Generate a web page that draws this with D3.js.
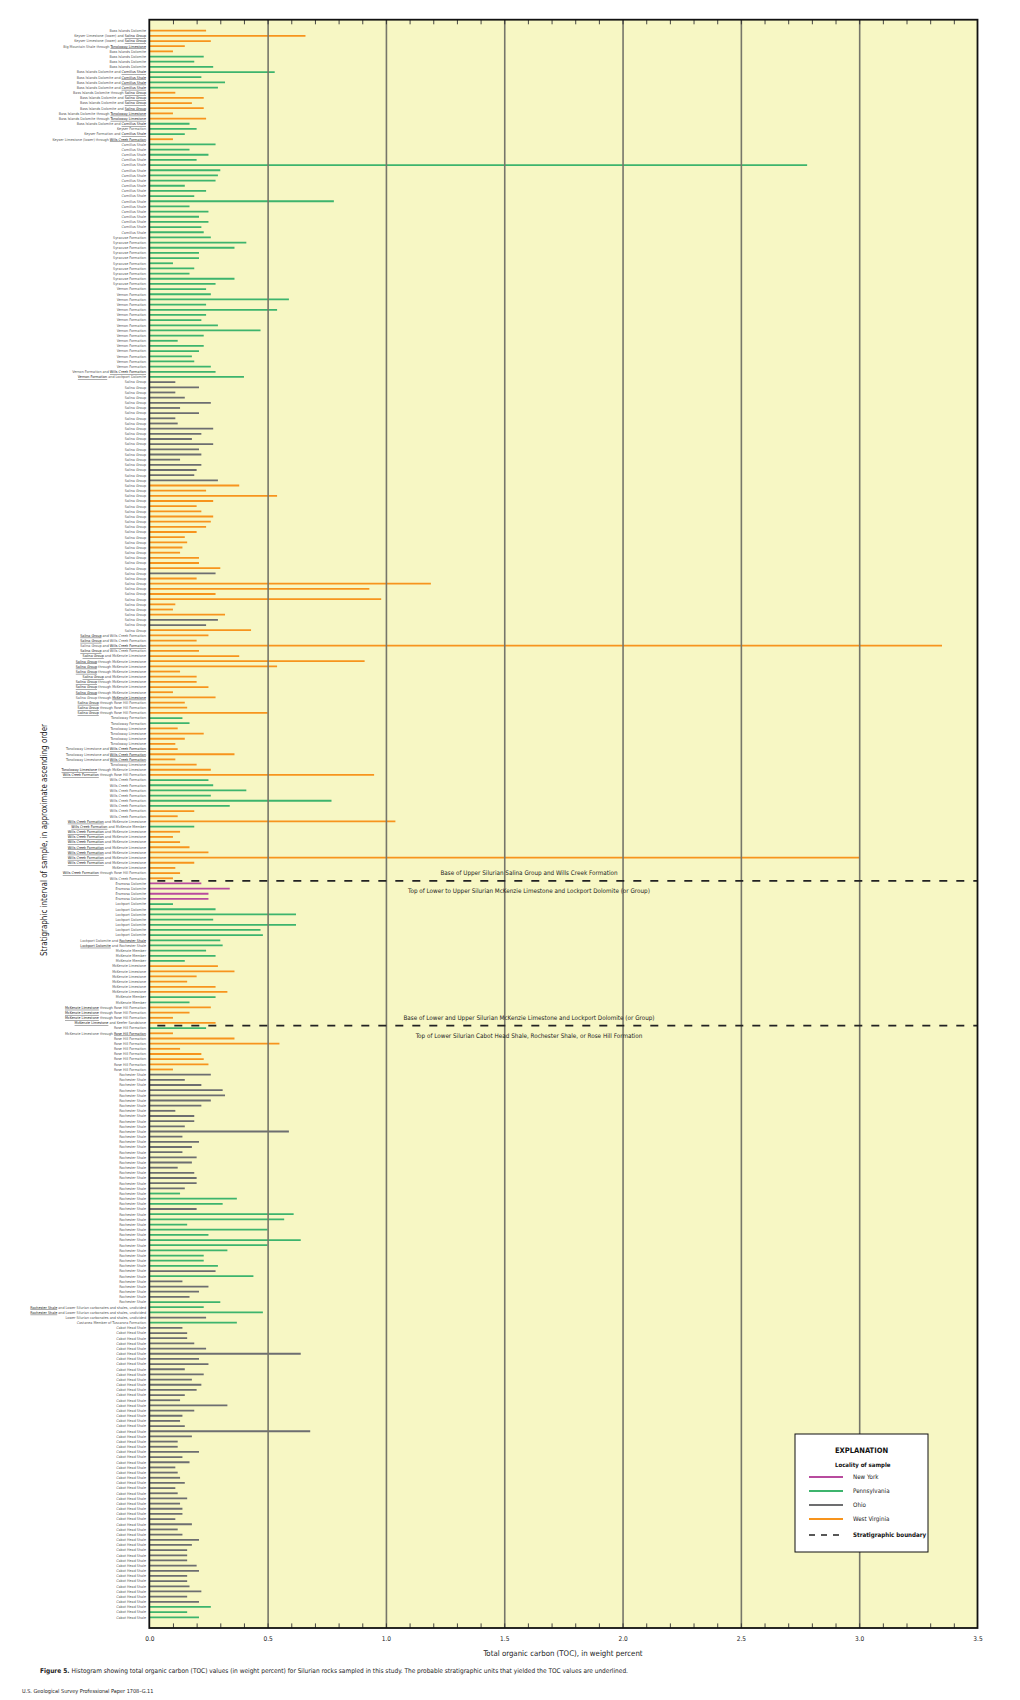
<!DOCTYPE html>
<html><head><meta charset="utf-8">
<script src="https://cdn.jsdelivr.net/npm/d3@7"></script>
<style>
html,body{margin:0;padding:0;background:#fff;}
svg{display:block;}
text{font-family:"Liberation Sans Narrow","DejaVu Sans Condensed","Roboto Condensed",sans-serif;}
</style></head>
<body>
<svg id="chart" width="1020" height="1700"></svg>
<script>
// ---------------- DATA ----------------
// Stratigraphic labels (runs of identical labels, top to bottom). {...} = underlined unit
const labelRuns = [
  ["Bass Islands Dolomite",1],
  ["Keyser Limestone (lower) and {Salina Group}",2],
  ["Big Mountain Shale through {Tonoloway Limestone}",1],
  ["Bass Islands Dolomite",4],
  ["Bass Islands Dolomite and {Camillus Shale}",4],
  ["Bass Islands Dolomite through {Salina Group}",1],
  ["Bass Islands Dolomite and {Salina Group}",3],
  ["Bass Islands Dolomite through {Tonoloway Limestone}",2],
  ["Bass Islands Dolomite and {Camillus Shale}",1],
  ["Keyser Formation",1],
  ["Keyser Formation and {Camillus Shale}",1],
  ["Keyser Limestone (lower) through {Wills Creek Formation}",1],
  ["Camillus Shale",18],
  ["Syracuse Formation",10],
  ["Vernon Formation",16],
  ["Vernon Formation and {Wills Creek Formation}",1],
  ["{Vernon Formation} and Lockport Dolomite",1],
  ["Salina Group",49],
  ["{Salina Group} and Wills Creek Formation",2],
  ["Salina Group and {Wills Creek Formation}",1],
  ["{Salina Group} and Wills Creek Formation",1],
  ["{Salina Group} and McKenzie Limestone",1],
  ["{Salina Group} through McKenzie Limestone",3],
  ["{Salina Group} and McKenzie Limestone",1],
  ["{Salina Group} through McKenzie Limestone",3],
  ["Salina Group through {McKenzie Limestone}",1],
  ["{Salina Group} through Rose Hill Formation",3],
  ["Tonoloway Formation",2],
  ["Tonoloway Limestone",4],
  ["Tonoloway Limestone and {Wills Creek Formation}",3],
  ["Tonoloway Limestone",1],
  ["{Tonoloway Limestone} through McKenzie Limestone",1],
  ["{Wills Creek Formation} through Rose Hill Formation",1],
  ["Wills Creek Formation",8],
  ["{Wills Creek Formation} and McKenzie Limestone",1],
  ["{Wills Creek Formation} and McKenzie Member",1],
  ["{Wills Creek Formation} and McKenzie Limestone",7],
  ["McKenzie Limestone",1],
  ["{Wills Creek Formation} through Rose Hill Formation",1],
  ["Wills Creek Formation",1],
  ["Eramosa Dolomite",4],
  ["Lockport Dolomite",7],
  ["Lockport Dolomite and {Rochester Shale}",1],
  ["{Lockport Dolomite} and Rochester Shale",1],
  ["McKenzie Member",3],
  ["McKenzie Limestone",6],
  ["McKenzie Member",2],
  ["{McKenzie Limestone} through Rose Hill Formation",3],
  ["{McKenzie Limestone} and Keefer Sandstone",1],
  ["Rose Hill Formation",1],
  ["McKenzie Limestone through {Rose Hill Formation}",1],
  ["Rose Hill Formation",7],
  ["Rochester Shale",45],
  ["{Rochester Shale} and Lower Silurian carbonates and shales, undivided",2],
  ["Lower Silurian carbonates and shales, undivided",1],
  ["Castanea Member of Tuscarora Formation",1],
  ["Cabot Head Shale",57]
];

// Locality of each sample (runs, top to bottom)
const localityRuns = [
  ["WV",5],["PA",7],["WV",6],["PA",3],["WV",1],["PA",46],["OH",20],["WV",17],["OH",1],
  ["WV",8],["OH",2],["WV",17],["PA",2],["WV",10],["PA",6],["WV",3],["PA",1],["WV",10],
  ["NY",4],["PA",12],["WV",6],["PA",2],["WV",4],["PA",1],["WV",8],["OH",23],["PA",3],
  ["OH",1],["PA",11],["OH",1],["PA",1],["OH",4],["PA",3],["OH",1],["PA",1],["OH",54],["PA",3]
];

// Total organic carbon, weight percent (top to bottom)
const toc = [
  0.24,0.66,0.26,0.15,0.10,0.23,0.19,0.27,0.53,0.22,0.32,0.29,0.11,0.23,0.18,0.23,0.10,0.24,0.17,0.20,0.15,0.10,
  0.28,0.17,0.25,0.20,2.78,0.30,0.29,0.28,0.15,0.24,0.19,0.78,0.17,0.25,0.21,0.25,0.22,0.23,
  0.26,0.41,0.36,0.21,0.21,0.10,0.19,0.17,0.36,0.28,
  0.24,0.26,0.59,0.24,0.54,0.24,0.22,0.29,0.47,0.23,0.12,0.23,0.21,0.18,0.19,0.26,0.28,0.40,
  0.11,0.21,0.11,0.15,0.26,0.13,0.21,0.11,0.12,0.27,0.22,0.18,0.27,0.21,0.22,0.13,0.22,0.20,0.19,0.29,
  0.38,0.24,0.54,0.27,0.20,0.22,0.27,0.26,0.24,0.20,0.15,0.16,0.14,0.13,0.21,0.21,0.30,
  0.28,0.20,1.19,0.93,0.28,0.98,0.11,0.10,0.32,0.29,0.24,0.43,
  0.25,0.20,3.35,0.21,0.38,0.91,0.54,0.13,0.20,0.20,0.25,0.10,0.28,0.15,0.16,0.50,
  0.14,0.17,0.12,0.23,0.15,0.11,0.12,0.36,0.11,0.20,0.26,0.95,
  0.25,0.27,0.41,0.26,0.77,0.34,0.19,0.12,1.04,0.19,0.13,0.10,0.13,0.17,0.25,3.00,0.19,0.11,0.13,0.10,
  0.22,0.34,0.25,0.25,0.10,0.28,0.62,0.27,0.62,0.47,0.48,0.30,0.31,0.24,0.28,0.15,0.29,0.36,0.20,0.16,0.28,0.33,0.28,0.17,0.26,0.17,0.10,0.28,
  0.24,0.10,0.36,0.55,0.13,0.22,0.23,0.25,0.10,
  0.26,0.15,0.22,0.31,0.32,0.26,0.22,0.11,0.19,0.19,0.15,0.59,0.14,0.21,0.18,0.14,0.20,0.18,0.12,0.19,0.20,0.20,0.15,
  0.13,0.37,0.31,0.20,0.61,0.57,0.16,0.50,0.25,0.64,0.50,0.33,0.23,0.23,0.29,0.28,0.44,0.14,0.25,0.21,0.17,0.30,0.23,0.48,0.24,0.37,
  0.14,0.16,0.16,0.19,0.24,0.64,0.21,0.25,0.15,0.23,0.18,0.22,0.20,0.15,0.13,0.33,0.19,0.14,0.13,0.15,
  0.68,0.18,0.12,0.12,0.21,0.14,0.17,0.11,0.12,0.13,0.15,0.11,0.12,0.16,0.13,0.14,0.14,0.11,0.18,0.12,
  0.14,0.21,0.18,0.16,0.16,0.16,0.20,0.21,0.16,0.16,0.17,0.22,0.16,0.21,0.26,0.16,0.21
];

// Stratigraphic boundaries: drawn after this many samples
const boundaryAfter = [165, 193];
const boundaryNotes = [
  ["Base of Upper Silurian Salina Group and Wills Creek Formation",
   "Top of Lower to Upper Silurian McKenzie Limestone and Lockport Dolomite (or Group)"],
  ["Base of Lower and Upper Silurian McKenzie Limestone and Lockport Dolomite (or Group)",
   "Top of Lower Silurian Cabot Head Shale, Rochester Shale, or Rose Hill Formation"]
];

const localityNames = {NY:"New York", PA:"Pennsylvania", OH:"Ohio", WV:"West Virginia"};
const localityOrder = ["NY","PA","OH","WV"];
const xTickLabels = [0,0.5,1,1.5,2,2.5,3,3.5];

const xTitle = "Total organic carbon (TOC), in weight percent";
const yTitle = "Stratigraphic interval of sample, in approximate ascending order";
const captionBold = "Figure 5.";
const captionText = "Histogram showing total organic carbon (TOC) values (in weight percent) for Silurian rocks sampled in this study. The probable stratigraphic units that yielded the TOC values are underlined.";
const footer = "U.S. Geological Survey Professional Paper 1708\u2013G.11";

// ---------------- BUILD ----------------
const labels = labelRuns.flatMap(([l,n]) => Array(n).fill(l));
const locs = localityRuns.flatMap(([l,n]) => Array(n).fill(l));
const rows = toc.map((v,i) => ({i, v, label: labels[i], loc: locs[i]}));

const colors = {NY:"#b84b9e", PA:"#3db46d", OH:"#6d6e70", WV:"#f7941d"};

const svg = d3.select("#chart");
const L = 149.3, R = 977.5, T = 19.7, B = 1628;
const x = d3.scaleLinear().domain([0,3.5]).range([L,R]);
const y = d3.scalePoint().domain(d3.range(rows.length)).range([30.7, 1617.3]);

// background
svg.append("rect").attr("x",L).attr("y",T).attr("width",R-L).attr("height",B-T).attr("fill","#f7f7c4");

// bars
svg.append("g").selectAll("line").data(rows).join("line")
  .attr("x1", x(0)).attr("x2", d => x(d.v))
  .attr("y1", d => y(d.i)).attr("y2", d => y(d.i))
  .attr("stroke", d => colors[d.loc]).attr("stroke-width", 1.8);

// gridlines
const grid = svg.append("g").attr("transform",`translate(0,${B})`)
  .call(d3.axisBottom(x).tickValues([0.5,1,1.5,2,2.5,3]).tickSize(-(B-T)).tickFormat(""));
grid.select(".domain").remove();
grid.selectAll("line").attr("stroke","#76766a").attr("stroke-width",1.6);

// minor ticks top & bottom
const minor = d3.range(1,35).map(k => k/10);
const tt = svg.append("g").attr("transform",`translate(0,${T})`)
  .call(d3.axisTop(x).tickValues(minor).tickSize(-4.6).tickFormat(""));
tt.select(".domain").remove(); tt.selectAll("line").attr("stroke","#333").attr("stroke-width",0.9);
const tb = svg.append("g").attr("transform",`translate(0,${B})`)
  .call(d3.axisBottom(x).tickValues(minor).tickSize(-4.6).tickFormat(""));
tb.select(".domain").remove(); tb.selectAll("line").attr("stroke","#333").attr("stroke-width",0.9);

// tick labels
const tl = svg.append("g").attr("transform",`translate(0,${B})`)
  .call(d3.axisBottom(x).tickValues(xTickLabels).tickSize(0).tickPadding(8).tickFormat(d3.format(".1f")));
tl.select(".domain").remove();
tl.selectAll("text").attr("font-size",6.5).attr("fill","#222")
  .style("font-family",'"Liberation Sans Narrow","DejaVu Sans Condensed",sans-serif');

// boundaries
boundaryAfter.forEach((b,k) => {
  const yy = (y(b-1) + y(b)) / 2;
  svg.append("line").attr("x1",L).attr("x2",R).attr("y1",yy).attr("y2",yy)
    .attr("stroke","#222").attr("stroke-width",1.7).attr("stroke-dasharray","8,9").attr("stroke-dashoffset",-8);
  svg.append("text").attr("x",529).attr("y",yy-6).attr("text-anchor","middle")
    .attr("font-size",6.3).attr("fill","#222").text(boundaryNotes[k][0]);
  svg.append("text").attr("x",529).attr("y",yy+12.3).attr("text-anchor","middle")
    .attr("font-size",6.3).attr("fill","#222").text(boundaryNotes[k][1]);
});

// frame
svg.append("rect").attr("x",L).attr("y",T).attr("width",R-L).attr("height",B-T)
  .attr("fill","none").attr("stroke","#111").attr("stroke-width",1.8);

// row labels
const lab = svg.append("g").selectAll("text").data(rows).join("text")
  .attr("x", 146).attr("y", d => y(d.i) + 1.35)
  .attr("text-anchor","end").attr("font-size",3.7).attr("fill","#555");
lab.each(function(d){
  const t = d3.select(this);
  d.label.split(/(\{[^}]*\})/).filter(s => s.length).forEach(s => {
    if (s[0] === "{") {
      t.append("tspan").text(s.slice(1,-1)).attr("fill","#222").style("text-decoration","underline");
    } else {
      t.append("tspan").text(s);
    }
  });
});

// axis titles
svg.append("text").attr("x",563).attr("y",1656).attr("text-anchor","middle")
  .attr("font-size",7.8).attr("fill","#222").text(xTitle);
svg.append("text").attr("transform","translate(47,840) rotate(-90)").attr("text-anchor","middle")
  .attr("font-size",9.5).attr("fill","#222")
  .attr("textLength",232).attr("lengthAdjust","spacingAndGlyphs").text(yTitle);

// legend
const lg = svg.append("g");
lg.append("rect").attr("x",795).attr("y",1434).attr("width",133).attr("height",118)
  .attr("fill","#fff").attr("stroke","#111").attr("stroke-width",1);
lg.append("text").attr("x",861.5).attr("y",1453).attr("text-anchor","middle")
  .attr("font-size",7.5).attr("font-weight","bold").attr("fill","#111").text("EXPLANATION");
lg.append("text").attr("x",835).attr("y",1467).attr("font-size",6)
  .attr("font-weight","bold").attr("fill","#111").text("Locality of sample");
localityOrder.forEach((k,j) => {
  const yy = 1477 + j*14;
  lg.append("line").attr("x1",809).attr("x2",843).attr("y1",yy).attr("y2",yy)
    .attr("stroke",colors[k]).attr("stroke-width",1.8);
  lg.append("text").attr("x",853).attr("y",yy+2.2).attr("font-size",6.2).attr("fill","#222").text(localityNames[k]);
});
lg.append("line").attr("x1",809).attr("x2",843).attr("y1",1535).attr("y2",1535)
  .attr("stroke","#222").attr("stroke-width",1.6).attr("stroke-dasharray","6,6");
lg.append("text").attr("x",853).attr("y",1537.2).attr("font-size",6.2).attr("font-weight","bold")
  .attr("fill","#111").text("Stratigraphic boundary");

// caption & footer
const cap = svg.append("text").attr("x",40).attr("y",1673).attr("font-size",6.5).attr("fill","#222");
cap.append("tspan").attr("font-weight","bold").text(captionBold + "  ");
cap.append("tspan").text(captionText);
svg.append("text").attr("x",22).attr("y",1693).attr("font-size",5.5).attr("fill","#222").text(footer);
</script>
</body></html>
